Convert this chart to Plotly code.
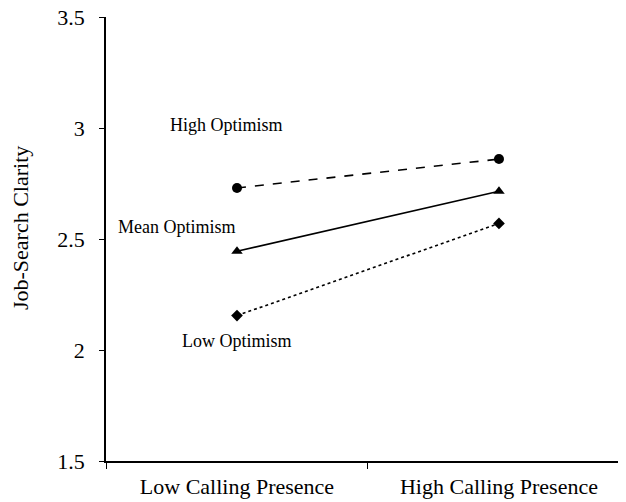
import plotly.graph_objects as go

categories = ["Low Calling Presence", "High Calling Presence"]
high_opt = [2.73, 2.86]
mean_opt = [2.445, 2.715]
low_opt = [2.155, 2.57]
series_names = ["High Optimism", "Mean Optimism", "Low Optimism"]
y_ticks = [1.5, 2, 2.5, 3, 3.5]
y_ticktext = ["1.5", "2", "2.5", "3", "3.5"]
y_title = "Job-Search Clarity"

FONT = "Liberation Serif"

fig = go.Figure()
styles = [
    (high_opt, "dash", "circle", 10),
    (mean_opt, "solid", "triangle-up", 10),
    (low_opt, "dot", "diamond", 9),
]
for name, (vals, dash, sym, sz) in zip(series_names, styles):
    fig.add_trace(go.Scatter(
        x=categories, y=vals, mode="lines+markers", name=name,
        line=dict(color="black", width=1.6, dash=dash),
        marker=dict(symbol=sym, size=sz, color="black"),
        showlegend=False,
    ))

label_pos = [(-0.04, 3.013), (-0.23, 2.554), (0.0, 2.041)]
for name, (lx, ly) in zip(series_names, label_pos):
    fig.add_annotation(x=lx, y=ly, xref="x", yref="y", text=name, showarrow=False,
                       font=dict(family=FONT, size=18, color="black"))

# y-axis title
fig.add_annotation(x=-0.165, y=0.525, xref="paper", yref="paper", text=y_title,
                   textangle=-90, showarrow=False, xanchor="center", yanchor="middle",
                   font=dict(family=FONT, size=22, color="black"))

fig.update_layout(
    width=626, height=502,
    margin=dict(l=98, r=14, t=9, b=49, autoexpand=False),
    plot_bgcolor="white", paper_bgcolor="white",
    font=dict(family=FONT, size=18, color="black"),
    xaxis=dict(type="category", range=[-0.5, 1.462], tickson="boundaries",
               ticks="outside", ticklen=6, tickcolor="black", tickwidth=1,
               showline=True, linecolor="black", linewidth=1.5, showgrid=False,
               zeroline=False, automargin=False, ticklabelstandoff=5,
               ticklabeloverflow="allow",
               tickfont=dict(family=FONT, size=22)),
    yaxis=dict(range=[1.5, 3.5], tickvals=y_ticks, ticktext=y_ticktext,
               ticks="outside", ticklen=5, tickcolor="black", tickwidth=1,
               showline=True, linecolor="black", linewidth=1.5, showgrid=False,
               zeroline=False, automargin=False, ticklabelstandoff=10,
               ticklabeloverflow="allow",
               tickfont=dict(family=FONT, size=22)),
)

fig.write_html("out.html")
